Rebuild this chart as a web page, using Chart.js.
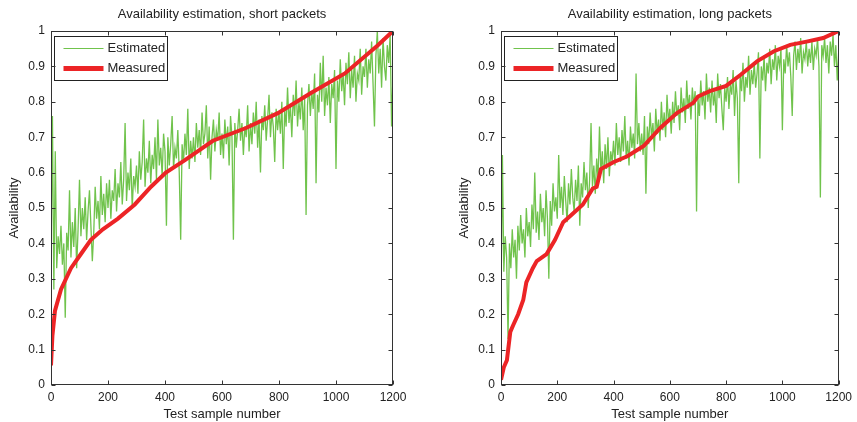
<!DOCTYPE html>
<html>
<head>
<meta charset="utf-8">
<script src="https://cdn.jsdelivr.net/npm/chart.js@4"></script>
<style>
  html, body { margin: 0; padding: 0; background: #fff; }
  #wrap { position: relative; width: 857px; height: 422px; overflow: hidden; }
  canvas { position: absolute; top: 0; }
  #chartShort { left: 0; }
  #chartLong { left: 450px; }
</style>
</head>
<body>
<div id="wrap">
  <canvas id="chartShort" width="430" height="422"></canvas>
  <canvas id="chartLong" width="407" height="422"></canvas>
</div>
<script>
// tick labels
const xTicks = [0, 200, 400, 600, 800, 1000, 1200];
const yTicks = [0, 0.1, 0.2, 0.3, 0.4, 0.5, 0.6, 0.7, 0.8, 0.9, 1];

// estimated availability, read every 5th test sample
const estStep = 5;

const estShort = [
  0.34, 0.76, 0.27, 0.66, 0.33, 0.42, 0.37, 0.45, 0.34, 0.40, 0.19, 0.43, 0.38, 0.55, 0.36, 0.46, 0.39, 0.50, 0.33, 0.44,
  0.58, 0.42, 0.50, 0.44, 0.53, 0.41, 0.49, 0.55, 0.45, 0.35, 0.43, 0.56, 0.47, 0.52, 0.44, 0.59, 0.48, 0.54, 0.46, 0.57,
  0.50, 0.58, 0.47, 0.55, 0.52, 0.61, 0.49, 0.57, 0.53, 0.63, 0.51, 0.58, 0.74, 0.52, 0.60, 0.55, 0.64, 0.50, 0.59, 0.56,
  0.62, 0.54, 0.66, 0.58, 0.63, 0.75, 0.56, 0.64, 0.60, 0.69, 0.57, 0.65, 0.61, 0.70, 0.58, 0.75, 0.62, 0.67, 0.59, 0.71,
  0.66, 0.45, 0.70, 0.62, 0.68, 0.76, 0.61, 0.67, 0.64, 0.72, 0.60, 0.41, 0.68, 0.63, 0.71, 0.65, 0.78, 0.61, 0.69, 0.64,
  0.70, 0.63, 0.74, 0.67, 0.72, 0.65, 0.77, 0.68, 0.71, 0.79, 0.64, 0.73, 0.58, 0.70, 0.75, 0.66, 0.72, 0.69, 0.77, 0.65,
  0.71, 0.64, 0.75, 0.68, 0.73, 0.62, 0.76, 0.70, 0.41, 0.74, 0.67, 0.72, 0.78, 0.69, 0.74, 0.65, 0.73, 0.70, 0.79, 0.66,
  0.74, 0.68, 0.77, 0.71, 0.80, 0.67, 0.75, 0.60, 0.76, 0.72, 0.79, 0.69, 0.75, 0.82, 0.70, 0.77, 0.73, 0.63, 0.78, 0.72,
  0.77, 0.71, 0.80, 0.61, 0.78, 0.73, 0.84, 0.74, 0.79, 0.70, 0.82, 0.76, 0.86, 0.73, 0.80, 0.75, 0.84, 0.72, 0.81, 0.48,
  0.79, 0.85, 0.76, 0.83, 0.78, 0.88, 0.57, 0.82, 0.77, 0.91, 0.80, 0.93, 0.76, 0.84, 0.79, 0.87, 0.74, 0.85, 0.81, 0.89,
  0.61, 0.86, 0.80, 0.92, 0.83, 0.88, 0.79, 0.91, 0.85, 0.94, 0.81, 0.89, 0.84, 0.93, 0.80, 0.88, 0.86, 0.95, 0.82, 0.90,
  0.87, 0.95, 0.84, 0.92, 0.88, 0.97, 0.85, 0.73, 0.93, 1.00, 0.88, 0.95, 0.84, 0.98, 0.90, 0.86, 0.96, 0.91, 0.99, 0.73,
  0.88
];

const estLong = [
  0.23, 0.65, 0.32, 0.42, 0.36, 0.13, 0.40, 0.33, 0.44, 0.36, 0.41, 0.30, 0.45, 0.38, 0.48, 0.40, 0.44, 0.36, 0.50, 0.42,
  0.46, 0.39, 0.51, 0.44, 0.60, 0.43, 0.49, 0.41, 0.54, 0.46, 0.50, 0.42, 0.55, 0.47, 0.30, 0.52, 0.45, 0.57, 0.49, 0.53,
  0.47, 0.65, 0.50, 0.56, 0.48, 0.59, 0.52, 0.46, 0.57, 0.51, 0.61, 0.53, 0.49, 0.58, 0.52, 0.62, 0.45, 0.57, 0.53, 0.63,
  0.55, 0.60, 0.50, 0.58, 0.74, 0.56, 0.62, 0.54, 0.64, 0.58, 0.73, 0.60, 0.66, 0.57, 0.68, 0.61, 0.70, 0.59, 0.66, 0.63,
  0.69, 0.62, 0.74, 0.65, 0.70, 0.63, 0.72, 0.66, 0.76, 0.64, 0.69, 0.62, 0.73, 0.67, 0.71, 0.64, 0.88, 0.68, 0.74, 0.66,
  0.71, 0.65, 0.76, 0.54, 0.73, 0.68, 0.77, 0.70, 0.74, 0.66, 0.78, 0.71, 0.75, 0.69, 0.80, 0.72, 0.77, 0.70, 0.82, 0.74,
  0.78, 0.71, 0.80, 0.74, 0.83, 0.76, 0.79, 0.72, 0.84, 0.77, 0.81, 0.74, 0.86, 0.78, 0.82, 0.75, 0.84, 0.79, 0.83, 0.49,
  0.81, 0.76, 0.86, 0.79, 0.83, 0.75, 0.88, 0.80, 0.84, 0.77, 0.86, 0.79, 0.83, 0.74, 0.88, 0.81, 0.85, 0.78, 0.72, 0.84,
  0.80, 0.87, 0.78, 0.85, 0.82, 0.89, 0.76, 0.86, 0.81, 0.57, 0.88, 0.83, 0.91, 0.80, 0.87, 0.84, 0.93, 0.82, 0.89, 0.85,
  0.91, 0.84, 0.88, 0.94, 0.64, 0.90, 0.86, 0.93, 0.83, 0.91, 0.88, 0.95, 0.85, 0.92, 0.89, 0.96, 0.86, 0.93, 0.90, 0.95,
  0.72, 0.92, 0.88, 0.96, 0.90, 0.94, 0.87, 0.76, 0.93, 0.97, 0.89, 0.95, 0.91, 0.98, 0.88, 0.94, 0.92, 0.97, 0.90, 0.95,
  0.91, 0.97, 0.89, 0.95, 0.93, 0.98, 0.90, 0.53, 0.96, 0.93, 0.98, 0.91, 0.96, 0.88, 0.97, 0.93, 0.99, 0.90, 0.96, 0.86,
  0.94
];

// measured availability (sorted), sample number / value
const measShortX = [0, 5, 14, 35, 70, 105, 140, 182, 235, 294, 351, 403, 470, 568, 684, 796, 912, 1031, 1147, 1200];
const measShortY = [0.055, 0.14, 0.21, 0.27, 0.33, 0.37, 0.41, 0.44, 0.47, 0.51, 0.56, 0.60, 0.635, 0.69, 0.726, 0.768, 0.825, 0.88, 0.96, 1.0];

const measLongX = [0, 10, 21, 33, 44, 61, 79, 90, 113, 127, 162, 192, 221, 250, 291, 326, 340, 355, 401, 449, 507, 566, 625, 683, 700, 742, 800, 853, 911, 970, 1028, 1086, 1145, 1200];
const measLongY = [0.015, 0.05, 0.07, 0.15, 0.17, 0.20, 0.24, 0.29, 0.33, 0.35, 0.37, 0.41, 0.46, 0.48, 0.51, 0.555, 0.56, 0.61, 0.63, 0.646, 0.675, 0.726, 0.768, 0.797, 0.815, 0.83, 0.845, 0.877, 0.915, 0.943, 0.961, 0.97, 0.98, 1.0];

const FONT = '"Liberation Sans", Arial, Helvetica, sans-serif';
const TEXT = '#222';

// box frame with inward ticks on all sides, plus the legend inside the plot
const frameAndLegend = {
  id: 'frameAndLegend',
  afterDraw(chart) {
    const { ctx, chartArea: a, scales } = chart;
    const L = Math.round(a.left) + 0.5, R = Math.round(a.right) - 0.5;
    const T = Math.round(a.top) + 0.5, B = Math.round(a.bottom) - 0.5;
    ctx.save();

    // legend
    const lx = L + 3, ly = T + 5, lw = 113, lh = 44;
    ctx.fillStyle = '#fff';
    ctx.fillRect(lx, ly, lw, lh);
    ctx.strokeStyle = '#222';
    ctx.lineWidth = 1;
    ctx.strokeRect(lx, ly, lw, lh);
    ctx.font = '13px ' + FONT;
    ctx.textBaseline = 'middle';
    ctx.textAlign = 'left';
    chart.data.datasets.forEach((ds, i) => {
      const yy = ly + 12 + i * 20;
      ctx.strokeStyle = ds.borderColor;
      ctx.lineWidth = i === 0 ? 1 : 5;
      ctx.beginPath();
      ctx.moveTo(lx + 9, yy);
      ctx.lineTo(lx + 49, yy);
      ctx.stroke();
      ctx.fillStyle = TEXT;
      ctx.fillText(ds.label, lx + 53, yy);
    });

    // frame
    ctx.strokeStyle = '#333';
    ctx.lineWidth = 1;
    ctx.strokeRect(L, T, R - L, B - T);
    ctx.beginPath();
    scales.x.ticks.forEach(t => {
      const px = Math.round(scales.x.getPixelForValue(t.value)) + 0.5;
      ctx.moveTo(px, B); ctx.lineTo(px, B - 4);
      ctx.moveTo(px, T); ctx.lineTo(px, T + 4);
    });
    scales.y.ticks.forEach(t => {
      const py = Math.round(scales.y.getPixelForValue(t.value)) + 0.5;
      ctx.moveTo(L, py); ctx.lineTo(L + 4, py);
      ctx.moveTo(R, py); ctx.lineTo(R - 4, py);
    });
    ctx.stroke();
    ctx.restore();
  }
};

function makeChart(canvasId, title, est, measX, measY, padRight) {
  const estPoints = est.map((v, i) => ({ x: i * estStep, y: v }));
  const measPoints = measX.map((x, i) => ({ x: x, y: measY[i] }));

  return new Chart(document.getElementById(canvasId), {
    type: 'line',
    data: {
      datasets: [
        {
          label: 'Estimated',
          data: estPoints,
          borderColor: 'rgba(96,188,56,0.9)',
          borderWidth: 1.3,
          pointRadius: 0,
          tension: 0,
          order: 2
        },
        {
          label: 'Measured',
          data: measPoints,
          borderColor: '#ec2426',
          borderWidth: 4,
          pointRadius: 0,
          tension: 0,
          order: 1
        }
      ]
    },
    options: {
      responsive: false,
      animation: false,
      events: [],
      layout: { padding: { left: 0, right: padRight, top: 0, bottom: 0 } },
      plugins: {
        legend: { display: false },
        tooltip: { enabled: false },
        title: {
          display: true,
          fullSize: false,
          text: title,
          color: TEXT,
          font: { family: FONT, size: 13, weight: 'normal' },
          padding: { top: 7, bottom: 8.4 }
        }
      },
      scales: {
        x: {
          type: 'linear',
          min: 0,
          max: 1200,
          afterFit: s => { s.height = 37; },
          afterBuildTicks: s => { s.ticks = xTicks.map(v => ({ value: v })); },
          grid: { display: false, drawTicks: false },
          border: { display: false },
          ticks: {
            color: TEXT,
            font: { family: FONT, size: 12 },
            padding: 5,
            maxRotation: 0,
            autoSkip: false,
            callback: v => String(v)
          },
          title: {
            display: true,
            text: 'Test sample number',
            color: TEXT,
            font: { family: FONT, size: 13 },
            padding: { top: 0, bottom: 0 }
          }
        },
        y: {
          type: 'linear',
          min: 0,
          max: 1,
          afterFit: s => { s.width = 51; },
          afterBuildTicks: s => { s.ticks = yTicks.map(v => ({ value: v })); },
          grid: { display: false, drawTicks: false },
          border: { display: false },
          ticks: {
            color: TEXT,
            font: { family: FONT, size: 12 },
            padding: 6,
            autoSkip: false,
            callback: v => String(v)
          },
          title: {
            display: true,
            text: 'Availability',
            color: TEXT,
            font: { family: FONT, size: 13 },
            padding: { top: 7, bottom: 0 }
          }
        }
      }
    },
    plugins: [frameAndLegend]
  });
}

makeChart('chartShort', 'Availability estimation, short packets', estShort, measShortX, measShortY, 37);
makeChart('chartLong', 'Availability estimation, long packets', estLong, measLongX, measLongY, 14);
</script>
</body>
</html>
